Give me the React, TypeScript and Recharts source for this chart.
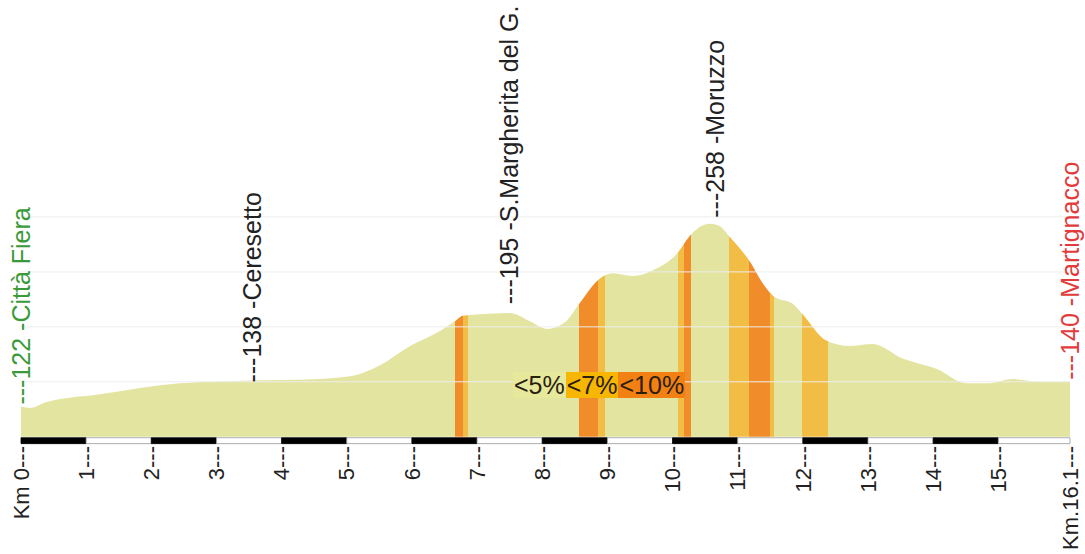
import React from 'react';
import {
  ComposedChart,
  Area,
  XAxis,
  YAxis,
  ReferenceArea,
  ReferenceLine,
  Scatter,
} from 'recharts';

// elevation profile (km, metres)
const profileKm = [0, 0.14, 0.37, 1.21, 2.44, 3.56, 4.28, 5.05, 5.51, 5.97, 6.43, 6.66, 6.78, 7.19, 7.5, 7.81, 8.07, 8.34, 8.57, 8.88, 9.08, 9.39, 9.69, 10.08, 10.26, 10.57, 10.72, 10.87, 11.18, 11.41, 11.56, 11.84, 11.99, 12.36, 12.71, 13.07, 13.53, 14.05, 14.51, 14.86, 15.21, 15.63, 16.1];
const profileElev = [122, 121, 125, 131, 139, 141, 141.5, 144, 152, 166, 177, 184, 188, 189.5, 190, 184, 178.5, 183, 197, 215, 219, 217, 221, 234, 246, 255, 253.5, 246, 228, 210, 202, 197, 189.5, 170, 166, 167.5, 157, 149.5, 139, 139, 142, 140, 140];

// gradient stretches
const bandStart = [6.66, 6.78, 8.57, 8.85, 10.08, 10.17, 10.87, 11.17, 11.49, 11.98];
const bandEnd = [6.78, 6.86, 8.85, 8.96, 10.17, 10.28, 11.17, 11.49, 11.56, 12.38];
const bandClass = ['<10%', '<7%', '<10%', '<7%', '<7%', '<10%', '<7%', '<10%', '<7%', '<7%'];

// places along the route
const placeKm = [0, 3.55, 7.5, 10.65, 16.1];
const placeElev = [122, 138, 195, 258, 140];
const placeName = ['Città Fiera', 'Ceresetto', 'S.Margherita del G.', 'Moruzzo', 'Martignacco'];

const kmTicks = [0, 1, 2, 3, 4, 5, 6, 7, 8, 9, 10, 11, 12, 13, 14, 15, 16.1];
const gridElev = [140, 180, 220, 260];
const gradeClasses = ['<5%', '<7%', '<10%'];

const TOTAL = 16.1;
const baseColor = '#e3e4a0';
const bandColors: Record<string, string> = { '<7%': '#f2bd45', '<10%': '#f08c2a' };
const legendBg: Record<string, string> = { '<5%': '#e6e89c', '<7%': '#f6b602', '<10%': '#f38012' };
const font = '"Liberation Sans", Arial, sans-serif';

const profile = profileKm.map((km, i) => ({ km, elev: profileElev[i] }));
const places = placeKm.map((km, i) => ({ km, elev: placeElev[i], name: placeName[i] }));

const stops: { o: number; c: string }[] = [];
let cursor = 0;
bandStart.forEach((s, i) => {
  stops.push({ o: cursor, c: baseColor }, { o: s, c: baseColor });
  const col = bandColors[bandClass[i]];
  stops.push({ o: s, c: col }, { o: bandEnd[i], c: col });
  cursor = bandEnd[i];
});
stops.push({ o: cursor, c: baseColor }, { o: TOTAL, c: baseColor });

const KmTick = ({ x, y, payload }: any) => {
  const v = payload.value;
  const label = v === 0 ? 'Km 0' : v === TOTAL ? 'Km.16.1' : String(v);
  const ty = y + 1;
  return (
    <text
      x={x}
      y={ty}
      transform={`rotate(-90 ${x} ${ty})`}
      textAnchor="end"
      dy="0.35em"
      fontSize={22}
      fontFamily={font}
      fill="#222"
    >
      {label + '---'}
    </text>
  );
};

const PlaceLabel = (props: any) => {
  const { cx, cy, payload, index } = props;
  const color = index === 0 ? '#3a9a3a' : index === places.length - 1 ? '#e23b3b' : '#222';
  const y = cy - 2;
  return (
    <text
      x={cx}
      y={y}
      transform={`rotate(-90 ${cx} ${y})`}
      textAnchor="start"
      dy="0.35em"
      fontSize={25}
      fontFamily={font}
      fill={color}
    >
      {'---' + payload.elev + ' -' + payload.name}
    </text>
  );
};

export default function App() {
  return (
    <div style={{ position: 'absolute', left: 0, top: 0, width: 1085, height: 554, background: '#fff', fontFamily: font }}>
      <ComposedChart width={1085} height={554} margin={{ top: 162, right: 15, bottom: 9, left: 21 }}>
        <defs>
          <linearGradient id="grade" x1="0" y1="0" x2="1" y2="0">
            {stops.map((s, i) => (
              <stop key={i} offset={s.o / TOTAL} stopColor={s.c} />
            ))}
          </linearGradient>
        </defs>
        <XAxis
          type="number"
          dataKey="km"
          domain={[0, TOTAL]}
          ticks={kmTicks}
          interval={0}
          axisLine={false}
          tickLine={false}
          tickSize={0}
          tickMargin={0}
          height={100}
          tick={<KmTick />}
        />
        <YAxis type="number" domain={[94, 300]} ticks={gridElev} hide />
        {gridElev.map((v) => (
          <ReferenceLine key={v} y={v} stroke="#ededed" strokeWidth={1} />
        ))}
        {kmTicks.slice(0, -1).map((k, i) => (
          <ReferenceArea
            key={k}
            x1={k}
            x2={kmTicks[i + 1]}
            y1={95}
            y2={99.3}
            fill={i % 2 === 0 ? '#000' : '#fff'}
            fillOpacity={1}
            stroke={i % 2 === 0 ? '#000' : '#999'}
            strokeWidth={0.8}
          />
        ))}
        <Area
          data={profile}
          dataKey="elev"
          type="monotone"
          baseValue={100}
          stroke="none"
          fill="url(#grade)"
          fillOpacity={1}
          dot={false}
          activeDot={false}
          isAnimationActive={false}
        />
        <Scatter
          data={places}
          dataKey="elev"
          shape={(p: any) => <PlaceLabel {...p} />}
          isAnimationActive={false}
        />
      </ComposedChart>
      <div style={{ position: 'absolute', left: 513, top: 372, display: 'flex', fontSize: 25, lineHeight: '26px', color: '#2a2010' }}>
        {gradeClasses.map((g) => (
          <span key={g} style={{ background: legendBg[g], padding: '0 1px' }}>{g}</span>
        ))}
      </div>
    </div>
  );
}
